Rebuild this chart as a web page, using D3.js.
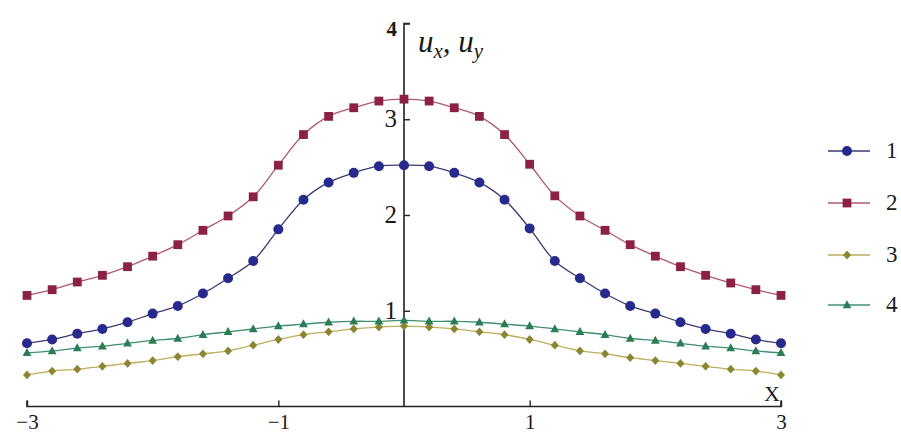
<!DOCTYPE html>
<html>
<head>
<meta charset="utf-8">
<script src="https://cdn.jsdelivr.net/npm/d3@7"></script>
<style>
  html, body { margin: 0; padding: 0; background: #ffffff; }
  svg { display: block; }
  text { font-family: "Liberation Serif", "Times New Roman", Times, serif; fill: #1a1a1a; }
</style>
</head>
<body>
<svg id="chart" width="901" height="437"></svg>
<script>
// Sample positions along x (step 0.2 from -3 to 3)
const xs = d3.range(31).map(i => +(-3 + i * 0.2).toFixed(1));

// Curve values for each series
const series1 = [0.66, 0.70, 0.76, 0.81, 0.88, 0.97, 1.05, 1.18, 1.34, 1.52, 1.85, 2.16, 2.34, 2.44, 2.51,
                 2.52,
                 2.51, 2.44, 2.34, 2.16, 1.86, 1.52, 1.34, 1.18, 1.05, 0.97, 0.88, 0.81, 0.76, 0.70, 0.66];
const series2 = [1.16, 1.22, 1.30, 1.37, 1.46, 1.57, 1.69, 1.84, 1.99, 2.19, 2.52, 2.84, 3.03, 3.12, 3.19,
                 3.21,
                 3.19, 3.12, 3.03, 2.84, 2.53, 2.20, 1.99, 1.84, 1.69, 1.57, 1.46, 1.37, 1.29, 1.22, 1.16];
const series3 = [0.33, 0.37, 0.39, 0.42, 0.45, 0.48, 0.52, 0.55, 0.58, 0.64, 0.70, 0.75, 0.78, 0.81, 0.83,
                 0.84,
                 0.83, 0.81, 0.78, 0.75, 0.70, 0.64, 0.58, 0.55, 0.51, 0.48, 0.45, 0.42, 0.39, 0.37, 0.33];
const series4 = [0.56, 0.58, 0.61, 0.63, 0.66, 0.69, 0.71, 0.75, 0.78, 0.81, 0.84, 0.86, 0.88, 0.89, 0.89,
                 0.90,
                 0.89, 0.89, 0.88, 0.86, 0.84, 0.81, 0.78, 0.75, 0.71, 0.69, 0.66, 0.63, 0.61, 0.58, 0.56];

const seriesNames = ["1", "2", "3", "4"];
const xTicks = [-3, -1, 1, 3];
const yTicks = [1, 2, 3, 4];

const seriesStyle = [
  { values: series1, line: "#3a3a72", fill: "#262a8c", shape: "circle" },
  { values: series2, line: "#b05578", fill: "#8c2146", shape: "square" },
  { values: series3, line: "#bcae5c", fill: "#8c8632", shape: "diamond" },
  { values: series4, line: "#3f9070", fill: "#2a7d55", shape: "triangle" }
];

const serif = "Liberation Serif, Times New Roman, serif";
const svg = d3.select("#chart");

const x = d3.scaleLinear().domain([-3, 3]).range([27, 781]);
const y = d3.scaleLinear().domain([0, 4]).range([406.5, 23.5]);

// Horizontal axis through y = 0
const xAxis = d3.axisBottom(x).tickValues(xTicks).tickSize(-6)
  .tickFormat(d => d < 0 ? "\u2212" + Math.abs(d) : String(d));
const gx = svg.append("g").attr("transform", `translate(0,${y(0)})`).call(xAxis);
gx.select(".domain").attr("stroke", "#222").attr("stroke-width", 1.6).attr("d", `M${x(-3)},-6V0H${x(3)}V-6`);
gx.selectAll(".tick line").attr("stroke", "#222").attr("stroke-width", 1.4);
gx.selectAll(".tick text").attr("font-size", 21).attr("y", 22).attr("dy", 0).attr("fill", "#1a1a1a")
  .attr("font-family", serif);

// Vertical axis through x = 0
const yAxis = d3.axisRight(y).tickValues(yTicks).tickSize(6).tickFormat(d3.format("d"));
const gy = svg.append("g").attr("transform", `translate(${x(0)},0)`).call(yAxis);
gy.select(".domain").attr("stroke", "#222").attr("stroke-width", 1.6).attr("d", `M0,${y(0)}V${y(4)}H6`);
gy.selectAll(".tick line").attr("stroke", "#222").attr("stroke-width", 1.4);
gy.selectAll(".tick text").attr("font-size", 25).attr("text-anchor", "end").attr("x", -7)
  .attr("dy", "0.3em").attr("fill", "#1a1a1a").attr("font-family", serif);
gy.selectAll(".tick").filter(d => d === 4).select("text")
  .attr("font-weight", "bold").attr("font-size", 21).attr("dy", "0.55em");

// Axis titles
const yTitle = svg.append("text").attr("x", 418).attr("y", 52).attr("font-size", 31).attr("font-style", "italic");
yTitle.append("tspan").text("u");
yTitle.append("tspan").attr("font-size", 21).attr("dy", 6).text("x");
yTitle.append("tspan").attr("dy", -6).text(", u");
yTitle.append("tspan").attr("font-size", 21).attr("dy", 6).text("y");

svg.append("text").attr("x", 764).attr("y", 401).attr("font-size", 22).text("X");

// Marker symbols
function marker(g, shape, fill, cx, cy) {
  if (shape === "circle") {
    g.append("circle").attr("cx", cx).attr("cy", cy).attr("r", 5).attr("fill", fill);
  } else if (shape === "square") {
    g.append("rect").attr("x", cx - 4.4).attr("y", cy - 4.4).attr("width", 8.8).attr("height", 8.8).attr("fill", fill);
  } else if (shape === "diamond") {
    g.append("path").attr("d", `M${cx},${cy - 4.4}L${cx + 4},${cy}L${cx},${cy + 4.4}L${cx - 4},${cy}Z`).attr("fill", fill);
  } else {
    g.append("path").attr("d", `M${cx},${cy - 4.8}L${cx + 4.4},${cy + 3.2}L${cx - 4.4},${cy + 3.2}Z`).attr("fill", fill);
  }
}

const line = d3.line().x(d => x(d[0])).y(d => y(d[1])).curve(d3.curveCatmullRom.alpha(0.5));

// Draw lower curves first so upper ones sit on top
[2, 3, 0, 1].forEach(i => {
  const s = seriesStyle[i];
  const pts = xs.map((xv, j) => [xv, s.values[j]]);
  const g = svg.append("g");
  g.append("path").datum(pts).attr("d", line).attr("fill", "none")
    .attr("stroke", s.line).attr("stroke-width", 1.3);
  pts.forEach(p => marker(g, s.shape, s.fill, x(p[0]), y(p[1])));
});

// Legend
const legendRows = [151, 203, 255, 305];
seriesNames.forEach((name, i) => {
  const s = seriesStyle[i];
  const g = svg.append("g");
  const ly = legendRows[i];
  g.append("line").attr("x1", 828).attr("x2", 870).attr("y1", ly).attr("y2", ly)
    .attr("stroke", s.line).attr("stroke-width", 1.3);
  marker(g, s.shape, s.fill, 847, ly);
  g.append("text").attr("x", 886).attr("y", ly + 7).attr("font-size", 23).text(name);
});
</script>
</body>
</html>
